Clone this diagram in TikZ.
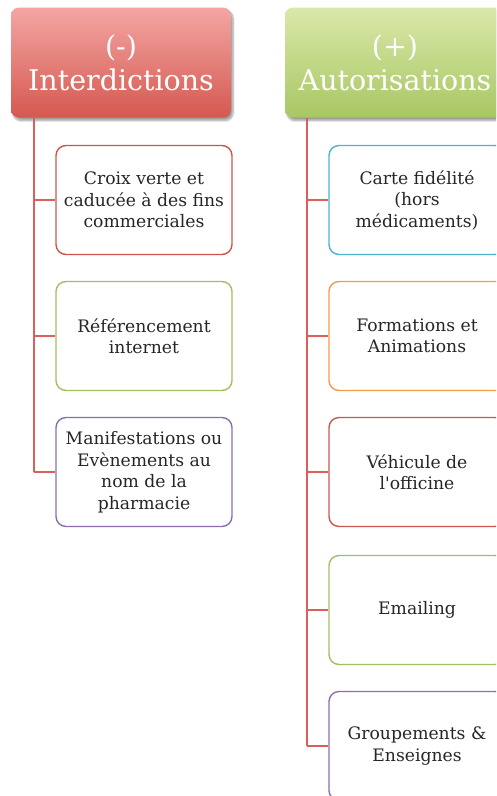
\documentclass[tikz,border=0pt]{standalone}
\usepackage{fontspec}
\setmainfont{DejaVu Serif}[Ligatures=TeXOff]
\usetikzlibrary{shadows.blur}
\definecolor{cred}{HTML}{C95750}
\definecolor{cgreen}{HTML}{A0C060}
\definecolor{cpurple}{HTML}{8A6FAE}
\definecolor{ccyan}{HTML}{4BB4CC}
\definecolor{corange}{HTML}{F79A4C}
\definecolor{clink}{HTML}{D9605A}
\definecolor{ctext}{HTML}{262626}
\definecolor{rtop}{HTML}{F4A6A4}
\definecolor{rbot}{HTML}{D4594F}
\definecolor{gtop}{HTML}{DAE8AA}
\definecolor{gbot}{HTML}{A8C763}
\tikzset{
  header/.style={rounded corners=8pt, minimum width=220pt, minimum height=110pt, inner sep=0pt,
    text=white, align=center, font=\fontsize{28.5}{34}\selectfont,
    blur shadow={shadow xshift=2pt, shadow yshift=-3pt, shadow blur steps=6, shadow opacity=40}},
  redhead/.style={header, top color=rtop, bottom color=rbot},
  greenhead/.style={header, top color=gtop, bottom color=gbot},
  item/.style={draw=#1, line width=1.4pt, fill=white, rounded corners=10pt, minimum width=176pt,
    minimum height=109pt, inner sep=2pt, align=center, text=ctext,
    font=\fontsize{17.2}{21.5}\selectfont},
  link/.style={draw=clink, line width=1.6pt}
}
\begin{document}
\begin{tikzpicture}[x=1pt,y=-1pt]
\useasboundingbox (0,0) rectangle (496,796);
\clip (0,0) rectangle (496,796);
% headers
\node[redhead] (h1) at (121,62.5) {(-)\\Interdictions};
\node[greenhead] (h2) at (395,62.5) {(+)\\Autorisations};
% left items
\node[item=cred] (l1) at (144,200) {Croix verte et\\caducée à des fins\\commerciales};
\node[item=cgreen] (l2) at (144,336) {Référencement\\internet};
\node[item=cpurple] (l3) at (144,472) {Manifestations ou\\Evènements au\\nom de la\\pharmacie};
% right items
\node[item=ccyan] (r1) at (417,200) {Carte fidélité\\(hors\\médicaments)};
\node[item=corange] (r2) at (417,336) {Formations et\\Animations};
\node[item=cred] (r3) at (417,472) {Véhicule de\\l'officine};
\node[item=cgreen] (r4) at (417,610) {Emailing};
\node[item=cpurple] (r5) at (417,746) {Groupements \&\\Enseignes};
% connectors
\coordinate (lx) at (34,0);
\coordinate (rx) at (307,0);
\draw[link] (h1.south -| lx) -- (l3.west -| lx);
\draw[link] (h2.south -| rx) -- (r5.west -| rx);
\draw[link] (l1.west -| lx) -- (l1.west);
\draw[link] (l2.west -| lx) -- (l2.west);
\draw[link] (l3.west -| lx) -- (l3.west);
\draw[link] (r1.west -| rx) -- (r1.west);
\draw[link] (r2.west -| rx) -- (r2.west);
\draw[link] (r3.west -| rx) -- (r3.west);
\draw[link] (r4.west -| rx) -- (r4.west);
\draw[link] (r5.west -| rx) -- (r5.west);
\end{tikzpicture}
\end{document}
